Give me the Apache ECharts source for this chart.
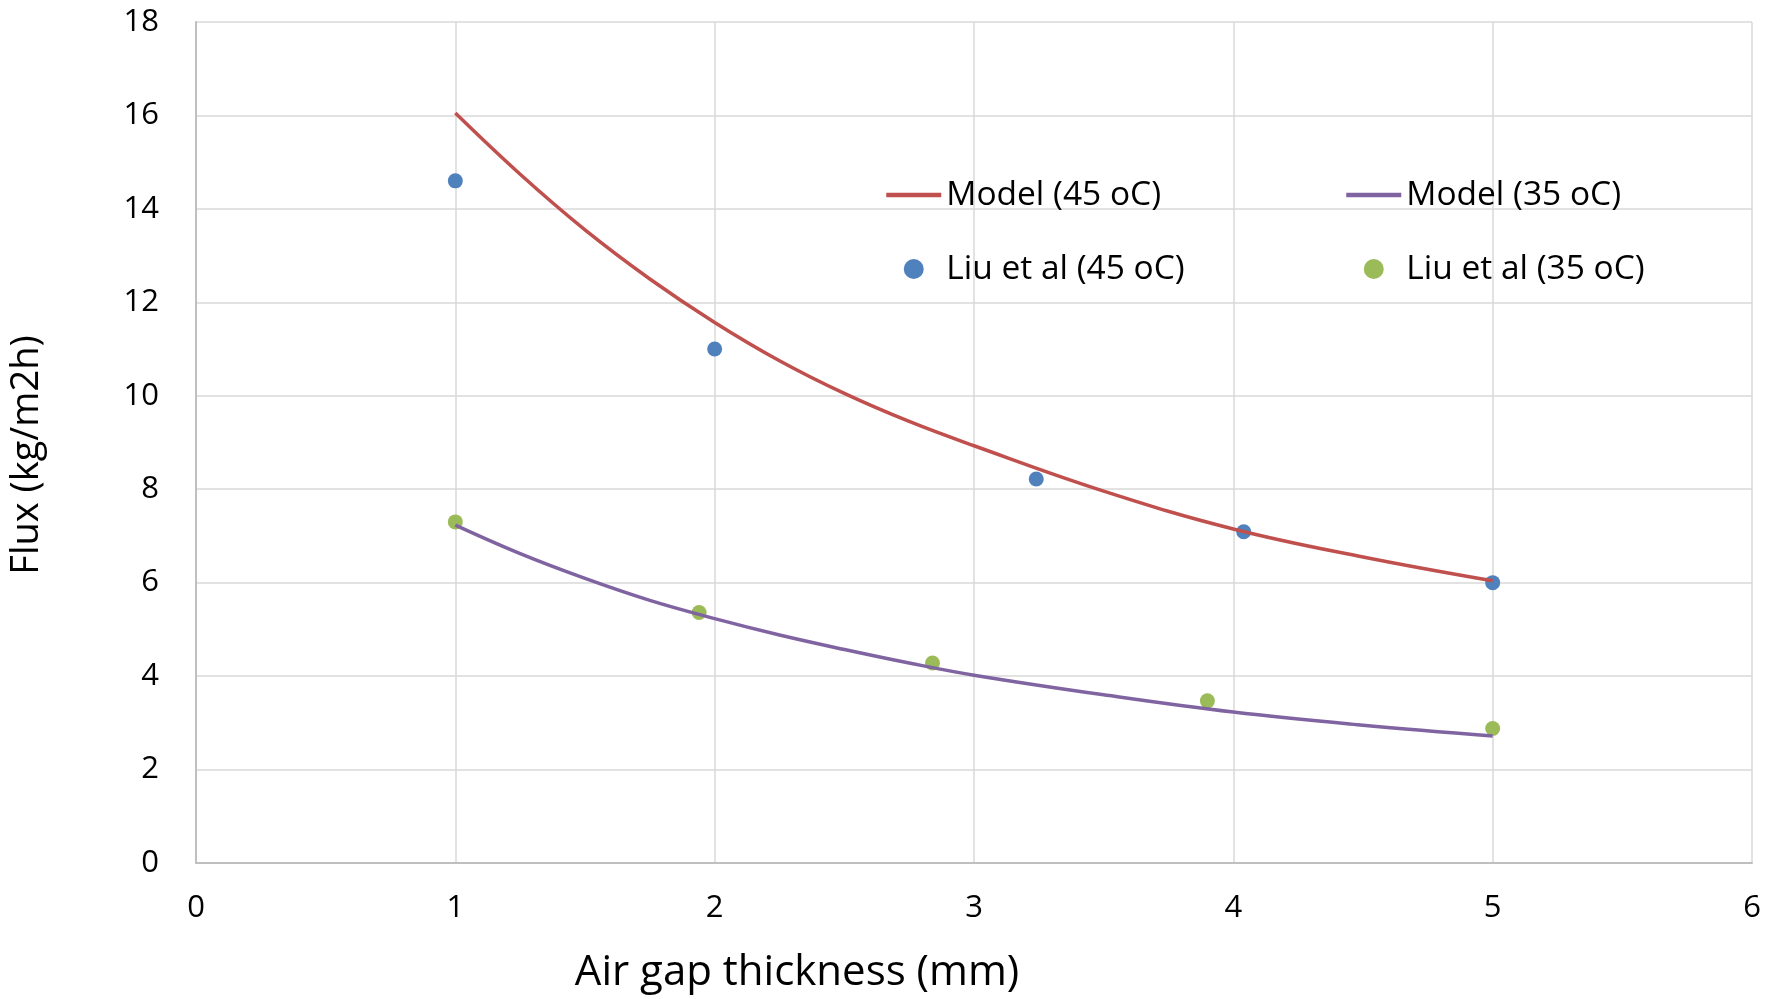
<!DOCTYPE html>
<html>
<head>
<meta charset="utf-8">
<script src="https://cdn.jsdelivr.net/npm/echarts@6/dist/echarts.min.js"></script>
<style>
  html, body { margin: 0; padding: 0; background: #fff; }
  #main { width: 1775px; height: 999px; }
</style>
</head>
<body>
<div id="main"></div>
<script>
// 曲線與實驗數據
const modelX = [1, 1.25, 1.5, 1.75, 2, 2.25, 2.5, 2.75, 3, 3.5, 4, 4.5, 5];
const model45 = [16.05, 14.74, 13.55, 12.5, 11.57, 10.75, 10.05, 9.45, 8.93, 7.96, 7.15, 6.55, 6.04];
const model35 = [7.23, 6.62, 6.09, 5.62, 5.23, 4.88, 4.57, 4.28, 4.02, 3.6, 3.23, 2.95, 2.72];

const liuX45 = [1, 2, 3.24, 4.04, 5];
const liu45 = [14.6, 11.0, 8.22, 7.09, 6.0];
const liuX35 = [1, 1.94, 2.84, 3.9, 5];
const liu35 = [7.3, 5.36, 4.28, 3.47, 2.88];

const font = '"Open Sans", sans-serif';

const chart = echarts.init(document.querySelector('#main'));

function pairs(xs, ys) {
    return xs.map((x, i) => [x, ys[i]]);
}

const legendText = { fontSize: 33.5, fontFamily: font, color: '#000' };
const noDot = { color: 'rgba(0,0,0,0)', borderWidth: 0 };

let option = {
    backgroundColor: '#fff',
    animation: false,
    grid: { left: 194, right: 23, top: 22, bottom: 134 },
    legend: [
        {
            left: 884, top: 178, orient: 'vertical', padding: 0,
            itemWidth: 55, itemHeight: 20, itemGap: 40,
            textStyle: legendText,
            lineStyle: { width: 4.5 },
            data: [{ name: 'Model (45 oC)', itemStyle: noDot }, 'Liu et al (45 oC)']
        },
        {
            left: 1344, top: 178, orient: 'vertical', padding: 0,
            itemWidth: 55, itemHeight: 20, itemGap: 40,
            textStyle: legendText,
            lineStyle: { width: 4.5 },
            data: [{ name: 'Model (35 oC)', itemStyle: noDot }, 'Liu et al (35 oC)']
        }
    ],
    xAxis: {
        type: 'value', min: 0, max: 6, interval: 1,
        name: 'Air gap thickness (mm)', nameLocation: 'middle', nameGap: 89,
        nameTextStyle: { fontSize: 42, fontFamily: font, color: '#000', padding: [0, 354, 0, 0] },
        axisLine: { lineStyle: { color: '#bfbfbf', width: 2 } },
        axisTick: { show: false },
        axisLabel: { margin: 30, fontSize: 31, fontFamily: font, color: '#000' },
        splitLine: { lineStyle: { color: '#d9d9d9', width: 1.5 } }
    },
    yAxis: {
        type: 'value', min: 0, max: 18, interval: 2,
        name: 'Flux (kg/m2h)', nameLocation: 'middle', nameGap: 150,
        nameTextStyle: { fontSize: 38, fontFamily: font, color: '#000', padding: [0, 25, 0, 0] },
        axisLine: { show: true, lineStyle: { color: '#bfbfbf', width: 2 } },
        axisTick: { show: false },
        axisLabel: { margin: 37, fontSize: 31, fontFamily: font, color: '#000' },
        splitLine: { lineStyle: { color: '#d9d9d9', width: 1.5 } }
    },
    series: [
        {
            name: 'Model (45 oC)', type: 'line', smooth: 0.4, symbol: 'none',
            lineStyle: { color: '#C0504D', width: 3.5 }, itemStyle: { color: '#C0504D' },
            data: pairs(modelX, model45)
        },
        {
            name: 'Model (35 oC)', type: 'line', smooth: 0.4, symbol: 'none',
            lineStyle: { color: '#8064A2', width: 3.5 }, itemStyle: { color: '#8064A2' },
            data: pairs(modelX, model35)
        },
        {
            name: 'Liu et al (45 oC)', type: 'scatter', symbolSize: 15,
            itemStyle: { color: '#4F81BD', opacity: 1 },
            data: pairs(liuX45, liu45)
        },
        {
            name: 'Liu et al (35 oC)', type: 'scatter', symbolSize: 15,
            itemStyle: { color: '#9BBB59', opacity: 1 },
            data: pairs(liuX35, liu35)
        }
    ]
};
chart.setOption(option);
</script>
</body>
</html>
